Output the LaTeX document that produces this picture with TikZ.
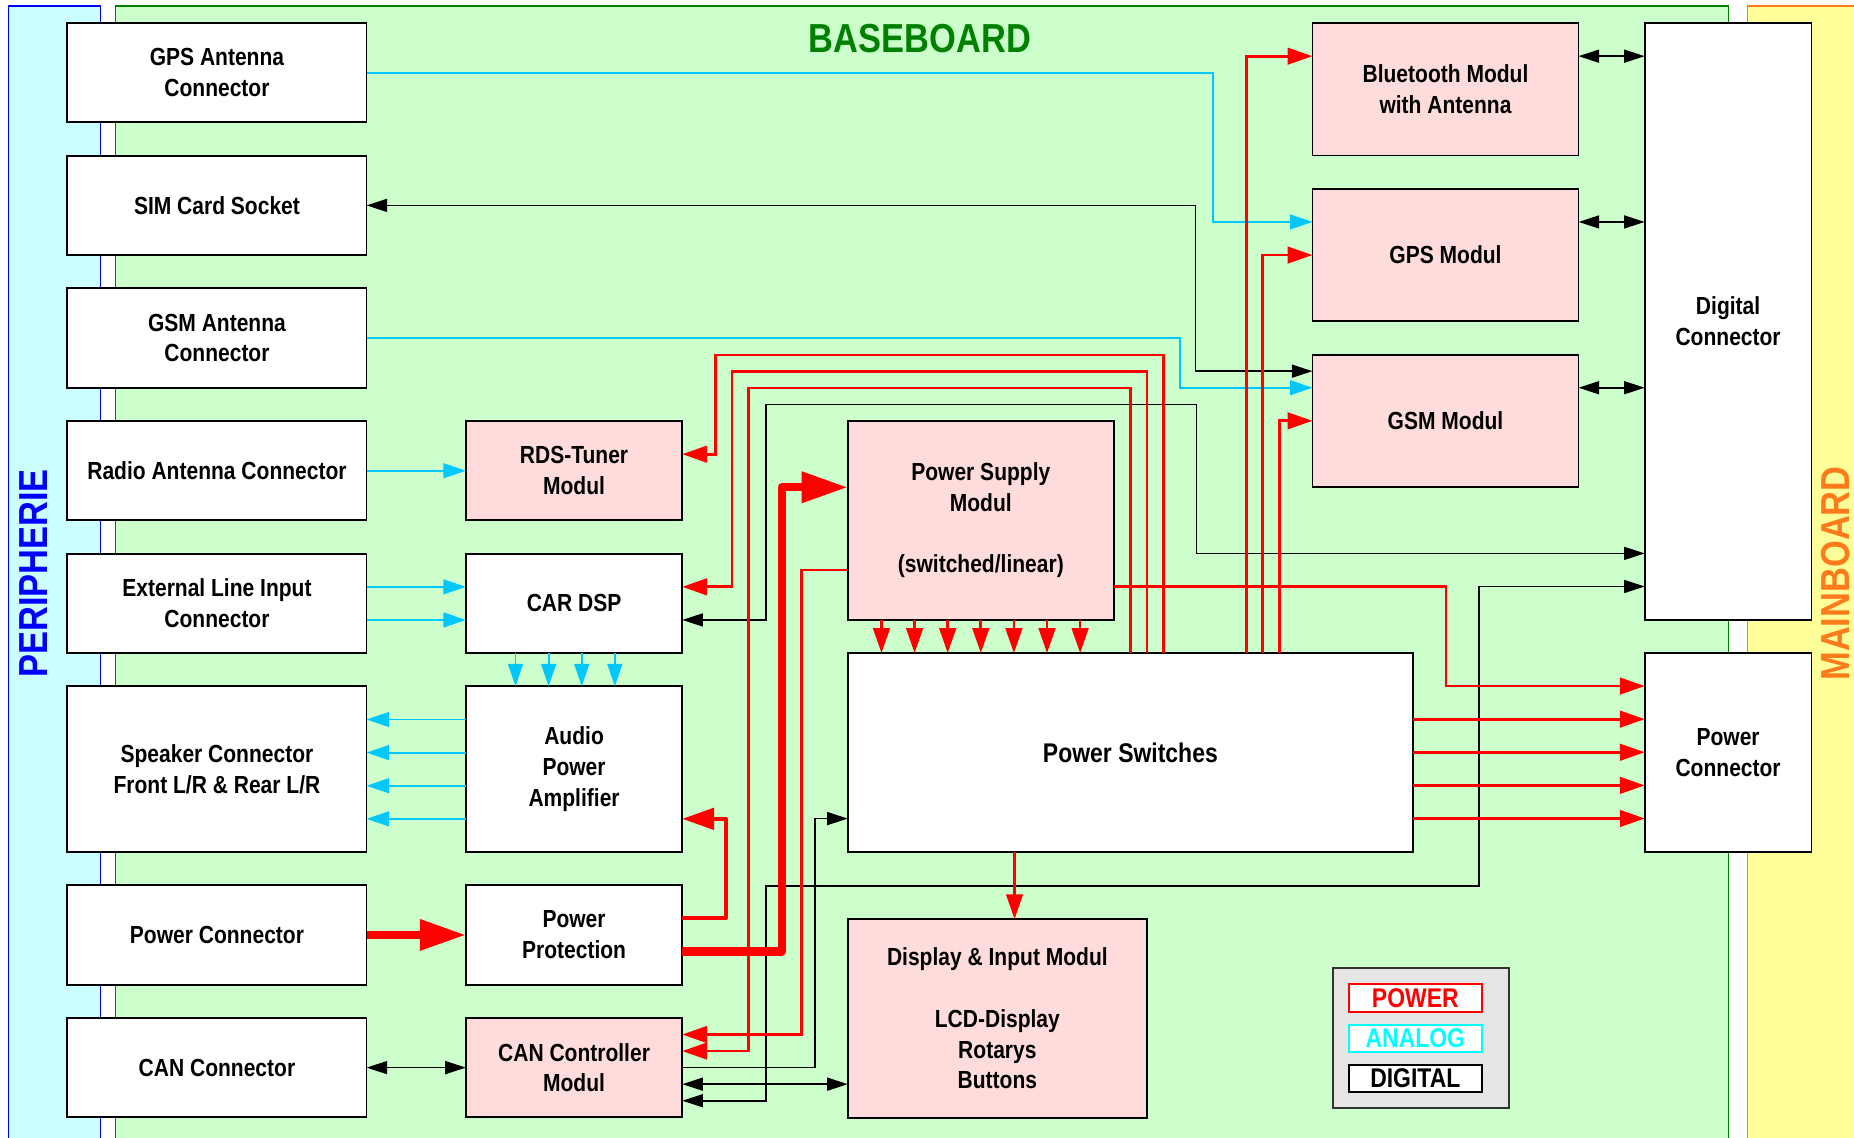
\documentclass[tikz,border=0pt]{standalone}
\usepackage{fontspec}
\setmainfont{Liberation Sans}[FakeStretch=0.85]
\usepackage{tikz}
\usetikzlibrary{arrows.meta,positioning,calc}
\definecolor{perifill}{HTML}{CCFFFF}
\definecolor{periblue}{HTML}{0000FF}
\definecolor{basefill}{HTML}{CCFFCC}
\definecolor{basegreen}{HTML}{008000}
\definecolor{mainfill}{HTML}{FFFF99}
\definecolor{mainorange}{HTML}{FF7A1A}
\definecolor{modfill}{HTML}{FFDCDC}
\definecolor{pwrred}{HTML}{FF0000}
\definecolor{anacyan}{HTML}{00C8FF}
\definecolor{legcyan}{HTML}{00FFFF}
\definecolor{leggray}{HTML}{E6E6E6}
\newcommand\lblfont{\fontsize{11.9}{14.8}\selectfont\bfseries}
\newcommand\swfont{\fontsize{13}{15.6}\selectfont\bfseries}
\newcommand\titlefont{\fontsize{19.5}{22}\selectfont\bfseries}
\newcommand\legfont{\fontsize{13}{15}\selectfont\bfseries}
\tikzset{
  portbox/.style={
    rectangle, draw=black, fill=white, line width=0.9pt,
    font=\lblfont, align=center, inner sep=2pt, outer sep=0pt,
    minimum width=50.6mm, minimum height=16.8mm
  },
  modbox/.style={portbox, fill=modfill},
  pwrarrow/.style={-{Triangle[length=4.2mm,width=2.8mm]}, draw=pwrred, line width=1.3pt},
  pwrmedium/.style={-{Triangle[length=5.4mm,width=3.6mm]}, draw=pwrred,
    line width=2pt, line join=round},
  pwrthick/.style={-{Triangle[length=7.8mm,width=5mm]}, draw=pwrred,
    line width=3.9pt, line join=round},
  anaarrow/.style={-{Triangle[length=3.8mm,width=2.5mm]}, draw=anacyan, line width=0.9pt},
  digarrow/.style={-{Triangle[length=3.5mm,width=2.2mm]}, draw=black, line width=0.8pt},
  digboth/.style={digarrow, {Triangle[length=3.5mm,width=2.2mm]}-{Triangle[length=3.5mm,width=2.2mm]}},
  legitem/.style={rectangle, draw=#1, fill=white, line width=1pt, text=#1, outer sep=0pt,
    font=\legfont, minimum width=22.4mm, minimum height=4.6mm, inner sep=0pt},
  titletext/.style={font=\titlefont, text=#1},
}

\begin{document}
\begin{tikzpicture}[x=0.2mm, y=-0.2mm, node distance=5.64mm and 16.8mm]
  \useasboundingbox (0,0) rectangle (1568,962);
  % boards
  \draw[periblue, fill=perifill, line width=0.6pt] (7,5) rectangle (85,980);
  \draw[basegreen, fill=basefill, line width=0.6pt] (98,5) rectangle (1462,980);
  \draw[mainorange, fill=mainfill, line width=0.6pt] (1478,5) rectangle (1600,980);
  \node[titletext=basegreen] (tbase) at (778,33) {BASEBOARD};
  \node[titletext=periblue, rotate=90] (tperi) at (28,485) {PERIPHERIE};
  \node[titletext=mainorange, rotate=90] (tmain) at (1552,485) {MAINBOARD};

  % peripheral connectors
  \node[portbox] (gpsant) at (183.5,61.5) {GPS Antenna\\Connector};
  \node[portbox, below=of gpsant] (sim) {SIM Card Socket};
  \node[portbox, below=of sim] (gsmant) {GSM Antenna\\Connector};
  \node[portbox, below=of gsmant] (radio) {Radio Antenna Connector};
  \node[portbox, below=of radio] (extin) {External Line Input\\Connector};
  \node[portbox, below=of extin, minimum height=28mm] (speaker) {Speaker Connector\\Front L/R \& Rear L/R};
  \node[portbox, below=of speaker] (pwrin) {Power Connector};
  \node[portbox, below=of pwrin] (canconn) {CAN Connector};

  % audio and power column
  \node[modbox, right=of radio, minimum width=36.6mm] (rds) {RDS-Tuner\\Modul};
  \node[portbox, right=of extin, minimum width=36.6mm] (dsp) {CAR DSP};
  \node[portbox, right=of speaker, minimum width=36.6mm, minimum height=28mm] (amp) {Audio\\Power\\Amplifier};
  \node[portbox, right=of pwrin, minimum width=36.6mm] (prot) {Power\\Protection};
  \node[modbox, right=of canconn, minimum width=36.6mm] (canctl) {CAN Controller\\Modul};

  % power block
  \node[modbox, right=28mm of rds.north east, anchor=north west,
        minimum width=45mm, minimum height=33.6mm] (psu) {Power Supply\\Modul\\[14.8pt](switched/linear)};
  \node[portbox, below=of psu.south west, anchor=north west,
        minimum width=95.6mm, minimum height=33.6mm, font=\swfont] (sw) {Power Switches};
  \node[modbox, below=11.4mm of sw.south west, anchor=north west,
        minimum height=33.6mm] (disp) {Display \& Input Modul\\[14.8pt]LCD-Display\\Rotarys\\Buttons};

  % radio modules and mainboard side
  \node[modbox, minimum width=45mm, minimum height=22.4mm] (bt) at (1222.5,75.5) {Bluetooth Modul\\with Antenna};
  \node[modbox, below=of bt, minimum width=45mm, minimum height=22.4mm] (gps) {GPS Modul};
  \node[modbox, below=of gps, minimum width=45mm, minimum height=22.4mm] (gsm) {GSM Modul};
  \node[portbox, right=11.2mm of bt.north east, anchor=north west,
        minimum width=28.2mm, minimum height=100.9mm] (dig) {Digital\\Connector};
  \node[portbox, below=of dig, minimum width=28.2mm, minimum height=33.6mm] (pc) {Power\\Connector};

  % legend
  \node[rectangle, draw=black!80, fill=leggray, line width=0.9pt,
        minimum width=29.8mm, minimum height=23.6mm] (legend) at (1201.5,878) {};
  \node[legitem=legcyan] (lana) at ($(legend.center)+(-4.5,0)$) {ANALOG};
  \node[legitem=pwrred, above=2.2mm of lana] (lpwr) {POWER};
  \node[legitem=black, below=2.2mm of lana] (ldig) {DIGITAL};

  % analog
  \draw[anaarrow] (gpsant.east) -| ($(gps.west)+(-84,-28)$) -- ($(gps.west)+(0,-28)$);
  \draw[anaarrow] (gsmant.east) -| ($(gsm.west)+(-112,-28)$) -- ($(gsm.west)+(0,-28)$);
  \draw[anaarrow] (radio) -- (rds);
  \draw[anaarrow] ($(extin.east)+(0,-14)$) -- ($(dsp.west)+(0,-14)$);
  \draw[anaarrow] ($(extin.east)+(0,14)$) -- ($(dsp.west)+(0,14)$);
  \foreach \dx in {42,70,98,126}
    \draw[anaarrow] ($(dsp.south west)+(\dx,0)$) coordinate (p) -- (p |- amp.north);
  \foreach \dy in {-42,-14,14,42}
    \draw[anaarrow] ($(amp.west)+(0,\dy)$) coordinate (p) -- (p -| speaker.east);

  % digital
  \draw[digboth] (sim.east) -| ($(gsm.west)+(-99,-42)$) -- ($(gsm.west)+(0,-42)$);
  \draw[digboth] ($(dsp.east)+(0,14)$) -| ($(psu.north west)+(-69,-14)$)
    -| ($(dig.south west)+(-379,-56)$) -- ($(dig.south west)+(0,-56)$);
  \draw[digboth] ($(canctl.east)+(0,28)$) -| ($(sw.south west)+(-69,29)$)
    -| ($(dig.south west)+(-140,-28)$) -- ($(dig.south west)+(0,-28)$);
  \draw[digarrow] (canctl.east) -| ($(sw.west)+(-28,56)$) -- ($(sw.west)+(0,56)$);
  \draw[digboth] (canconn) -- (canctl);
  \draw[digboth] ($(canctl.east)+(0,14)$) coordinate (p) -- (p -| disp.west);
  \foreach \m in {bt,gps,gsm}
    \draw[digboth] ($(\m.east)+(0,-28)$) coordinate (p) -- (p -| dig.west);

  % power
  \foreach \dx in {-84,-56,...,84}
    \draw[pwrarrow] ($(psu.south)+(\dx,0)$) coordinate (p) -- (p |- sw.north);
  \draw[pwrarrow] ($(sw.north)+(28,0)$) |- ($(rds.north east)+(28,-56)$) |- ($(rds.east)+(0,-14)$);
  \draw[pwrarrow] ($(sw.north)+(14,0)$) |- ($(rds.north east)+(42,-42)$) |- ($(dsp.east)+(0,-14)$);
  \draw[pwrarrow] (sw.north) |- ($(rds.north east)+(56,-28)$) |- ($(canctl.east)+(0,-14)$);
  \draw[pwrarrow] ($(psu.west)+(0,42)$) -| ($(canctl.east)+(101,-28)$) -- ($(canctl.east)+(0,-28)$);
  \draw[pwrarrow] ($(sw.north)+(98,0)$) |- ($(bt.west)+(0,-28)$);
  \draw[pwrarrow] ($(sw.north)+(112,0)$) |- (gps.west);
  \draw[pwrarrow] ($(sw.north)+(126,0)$) |- (gsm.west);
  \draw[pwrarrow] ($(psu.east)+(0,56)$) -| ($(pc.west)+(-168,-56)$) -- ($(pc.west)+(0,-56)$);
  \foreach \dy in {-28,0,28,56}
    \draw[pwrarrow] ($(sw.east |- pc.west)+(0,\dy)$) coordinate (p) -- (p -| pc.west);
  \draw[pwrarrow] ($(sw.south)+(-98,0)$) coordinate (p) -- (p |- disp.north);
  \draw[pwrmedium] ($(prot.east)+(0,-14)$) -| ($(amp.east)+(37,42)$) -- ($(amp.east)+(0,42)$);
  \draw[pwrthick] (pwrin) -- (prot);
  \draw[pwrthick] ($(prot.east)+(0,14)$) -| ($(psu.west)+(-56,-28)$) -- ($(psu.west)+(0,-28)$);
\end{tikzpicture}
\end{document}
